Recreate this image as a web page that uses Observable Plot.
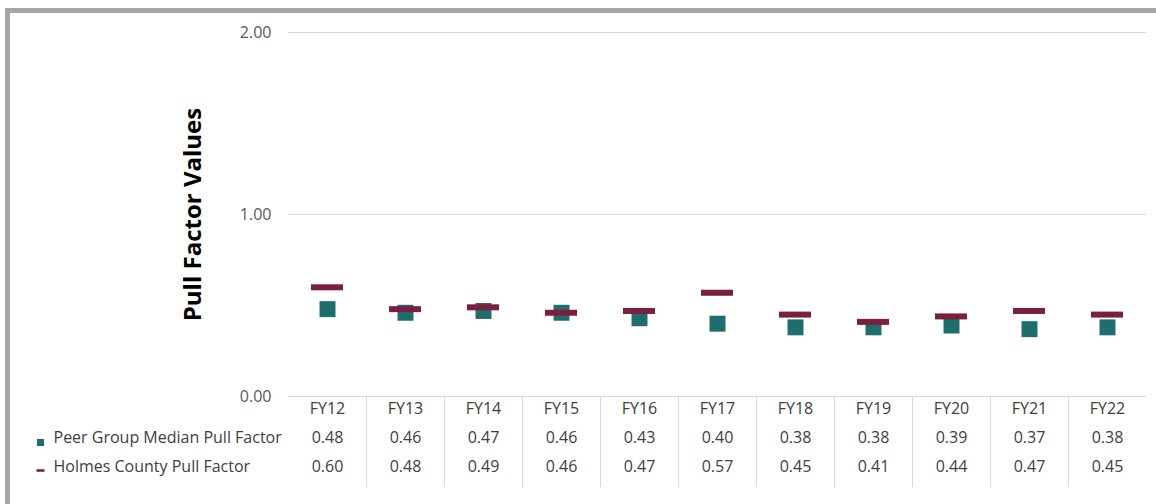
<!DOCTYPE html>
<html>
<head>
<meta charset="utf-8">
<script src="https://cdn.jsdelivr.net/npm/d3@7"></script>
<script src="https://cdn.jsdelivr.net/npm/@observablehq/plot@0.6"></script>
<style>
  html, body { margin: 0; padding: 0; background: #ffffff; overflow: hidden; }
  #wrap { position: relative; width: 1156px; height: 504px; overflow: hidden; }
  #frame { position: absolute; left: 5px; top: 8px; width: 1300px; height: 700px;
           border-top: 5px solid #a6a6a6; border-left: 5px solid #a6a6a6; box-sizing: border-box; }
  #chart { position: absolute; left: 0; top: 0; }
</style>
</head>
<body>
<div id="wrap"><div id="frame"></div><div id="chart"></div></div>
<script>
const categories = ["FY12","FY13","FY14","FY15","FY16","FY17","FY18","FY19","FY20","FY21","FY22"];
const peerValues = [0.48,0.46,0.47,0.46,0.43,0.40,0.38,0.38,0.39,0.37,0.38];
const holmesValues = [0.60,0.48,0.49,0.46,0.47,0.57,0.45,0.41,0.44,0.47,0.45];
const yTicks = [0, 1, 2];
const seriesNames = ["Peer Group Median Pull Factor", "Holmes County Pull Factor"];
const yTitle = "Pull Factor Values";

const teal = "#1f6d6d";
const maroon = "#7a1f3e";
const textColor = "#404040";
const lineColor = "#d9d9d9";

const data = categories.map((c, i) => ({cat: c, peer: peerValues[i], holmes: holmesValues[i]}));

const dashSymbol = { draw(ctx, size) { ctx.rect(-4, -1.3, 8, 2.6); } };

const chart = Plot.plot({
  width: 1156,
  height: 504,
  marginTop: 32,
  marginBottom: 108,
  marginLeft: 288,
  marginRight: 10,
  style: { fontFamily: "'Open Sans', sans-serif", background: "transparent", overflow: "visible" },
  x: { domain: categories, padding: 0, axis: null },
  y: { domain: [0, 2], axis: null },
  marks: [
    Plot.ruleY(yTicks, { stroke: lineColor, strokeWidth: 1 }),
    Plot.text(yTicks, { y: d => d, frameAnchor: "left", text: d => d.toFixed(2), dx: -17, textAnchor: "end", fontSize: 16, fill: "#595959" }),
    Plot.text([yTitle], { frameAnchor: "left", dx: -95, rotate: -90, textAnchor: "middle", fontSize: 24, fontWeight: "bold", fill: "#000000" }),
    // table separators
    Plot.ruleX(categories.slice(1), { x: d => d, dx: -39, y1: 0, y2: -0.5, stroke: lineColor }),
    // table rows
    Plot.text(data, { x: "cat", frameAnchor: "bottom", text: "cat", dy: 17, fontSize: 16, fill: textColor }),
    Plot.text(data, { x: "cat", frameAnchor: "bottom", text: d => d.peer.toFixed(2), dy: 46, fontSize: 16, fill: textColor }),
    Plot.text(data, { x: "cat", frameAnchor: "bottom", text: d => d.holmes.toFixed(2), dy: 75, fontSize: 16, fill: textColor }),
    // legend
    Plot.dot([seriesNames[0]], { frameAnchor: "bottom-left", dx: -248, dy: 46, symbol: "square", r: 4, fill: teal, stroke: null }),
    Plot.text([seriesNames[0]], { frameAnchor: "bottom-left", dx: -235, dy: 46, textAnchor: "start", fontSize: 16, fill: textColor }),
    Plot.dot([seriesNames[1]], { frameAnchor: "bottom-left", dx: -248, dy: 74, symbol: dashSymbol, fill: maroon, stroke: null }),
    Plot.text([seriesNames[1]], { frameAnchor: "bottom-left", dx: -235, dy: 75, textAnchor: "start", fontSize: 16, fill: textColor }),
    // data
    Plot.dot(data, { x: "cat", y: "peer", symbol: "square", r: 9, fill: teal, stroke: null }),
    Plot.tickY(data, { x: "cat", y: "holmes", stroke: maroon, strokeWidth: 6, insetLeft: 23, insetRight: 23 })
  ]
});
document.getElementById("chart").appendChild(chart);
</script>
</body>
</html>
